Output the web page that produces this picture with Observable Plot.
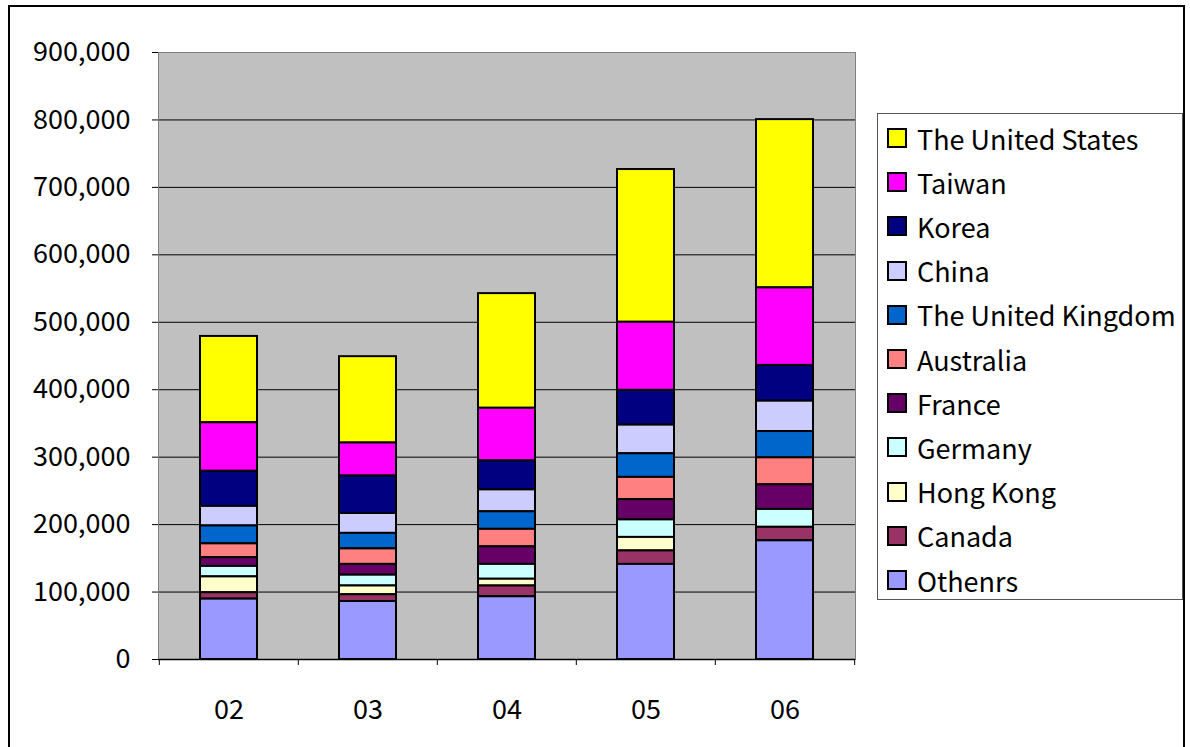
<!DOCTYPE html>
<html>
<head>
<meta charset="utf-8">
<script src="https://cdn.jsdelivr.net/npm/d3@7"></script>
<script src="https://cdn.jsdelivr.net/npm/@observablehq/plot@0.6"></script>
<style>
  body { margin: 0; background: #fff; }
  #wrap { position: relative; width: 1190px; height: 747px; overflow: hidden; font-family: "Noto Sans CJK JP", "DejaVu Sans", sans-serif; }
  #border { position: absolute; left: 8px; top: 5px; width: 1177px; height: 760px; border: 2px solid #000; box-sizing: border-box; }
  #chart { position: absolute; left: 0; top: 0; }
  #legend { position: absolute; left: 877px; top: 113px; width: 306px; height: 487px; border: 1px solid #555; box-sizing: border-box; background: #fff; }
  .item { position: absolute; left: 9px; height: 30px; display: flex; align-items: center; font-size: 27px; color: #000; white-space: nowrap; }
  .sw { width: 16px; height: 16px; border: 2px solid #000; margin-right: 10px; flex: none; }
</style>
</head>
<body>
<div id="wrap">
  <div id="border"></div>
  <div id="chart"></div>
  <div id="legend"></div>
</div>
<script>
const years = ["02", "03", "04", "05", "06"];
const series = ["The United States", "Taiwan", "Korea", "China", "The United Kingdom", "Australia", "France", "Germany", "Hong Kong", "Canada", "Othenrs"];
const colors = ["#FFFF00", "#FF00FF", "#000080", "#CCCCFF", "#0066CC", "#FF8080", "#660066", "#CCFFFF", "#FFFFCC", "#993366", "#9999FF"];

const unitedStates = [128000, 128000, 170000, 226500, 249500];
const taiwan       = [72000, 49000, 78000, 101000, 115000];
const korea        = [52000, 55500, 43000, 51500, 53000];
const china        = [29000, 29500, 32500, 42500, 45000];
const unitedKingdom= [26500, 23000, 26000, 35000, 39000];
const australia    = [20500, 23000, 26000, 33000, 40000];
const france       = [13000, 16000, 26000, 30000, 36500];
const germany      = [15500, 16000, 22000, 26000, 26500];
const hongKong     = [23500, 13000, 10000, 20000, 0];
const canada       = [9500, 10000, 16000, 20000, 20000];
const others       = [89500, 86000, 93000, 141000, 176000];

const yTicks = [0, 100000, 200000, 300000, 400000, 500000, 600000, 700000, 800000, 900000];

const valuesBySeries = [unitedStates, taiwan, korea, china, unitedKingdom, australia, france, germany, hongKong, canada, others];
const table = [];
series.forEach((s, si) => years.forEach((y, yi) => table.push({year: y, country: s, value: valuesBySeries[si][yi]})));

const stackOrder = series.slice().reverse(); // bottom to top
const W = 1190, H = 747, mL = 158, mR = 335, mT = 52, mB = 88;
const step = (W - mL - mR) / years.length;
const fontFamily = '"Noto Sans CJK JP", "DejaVu Sans", sans-serif';

const chart = Plot.plot({
  width: W, height: H,
  marginLeft: mL, marginRight: mR, marginTop: mT, marginBottom: mB,
  style: {fontFamily, background: "transparent", overflow: "visible"},
  x: {domain: years, paddingInner: 0.59, paddingOuter: 0.295, axis: null},
  y: {domain: [0, 900000], axis: null},
  color: {domain: series, range: colors},
  marks: [
    Plot.frame({fill: "#C0C0C0", stroke: "none"}),
    Plot.gridY(yTicks, {stroke: "#000", strokeOpacity: 1, strokeWidth: 1}),
    Plot.barY(table, Plot.stackY({order: stackOrder}, {x: "year", y: "value", z: "country", fill: "country", stroke: "#000", strokeWidth: 2})),
    Plot.frame({stroke: "#808080", strokeWidth: 1}),
    Plot.axisY(yTicks, {tickSize: 6, tickPadding: 22, tickFormat: d3.format(","), fontSize: 27, stroke: "#000", color: "#000", label: null}),
    Plot.axisX({tickSize: 0, tickPadding: 40, fontSize: 27, color: "#000", label: null}),
    Plot.ruleX(years, {x: d => d, dx: -step / 2, insetTop: H - mT - mB, insetBottom: -6, stroke: "#000"}),
    Plot.ruleX([years[years.length - 1]], {x: d => d, dx: step / 2, insetTop: H - mT - mB, insetBottom: -6, stroke: "#000"}),
    Plot.ruleY([0], {stroke: "#000", strokeWidth: 1.5})
  ]
});
document.getElementById("chart").appendChild(chart);

const legend = document.getElementById("legend");
series.forEach((s, i) => {
  const it = document.createElement("div");
  it.className = "item";
  it.style.top = (9 + i * 44.2) + "px";
  const sw = document.createElement("span");
  sw.className = "sw";
  sw.style.background = colors[i];
  const tx = document.createElement("span");
  tx.textContent = s;
  it.appendChild(sw);
  it.appendChild(tx);
  legend.appendChild(it);
});
</script>
</body>
</html>
